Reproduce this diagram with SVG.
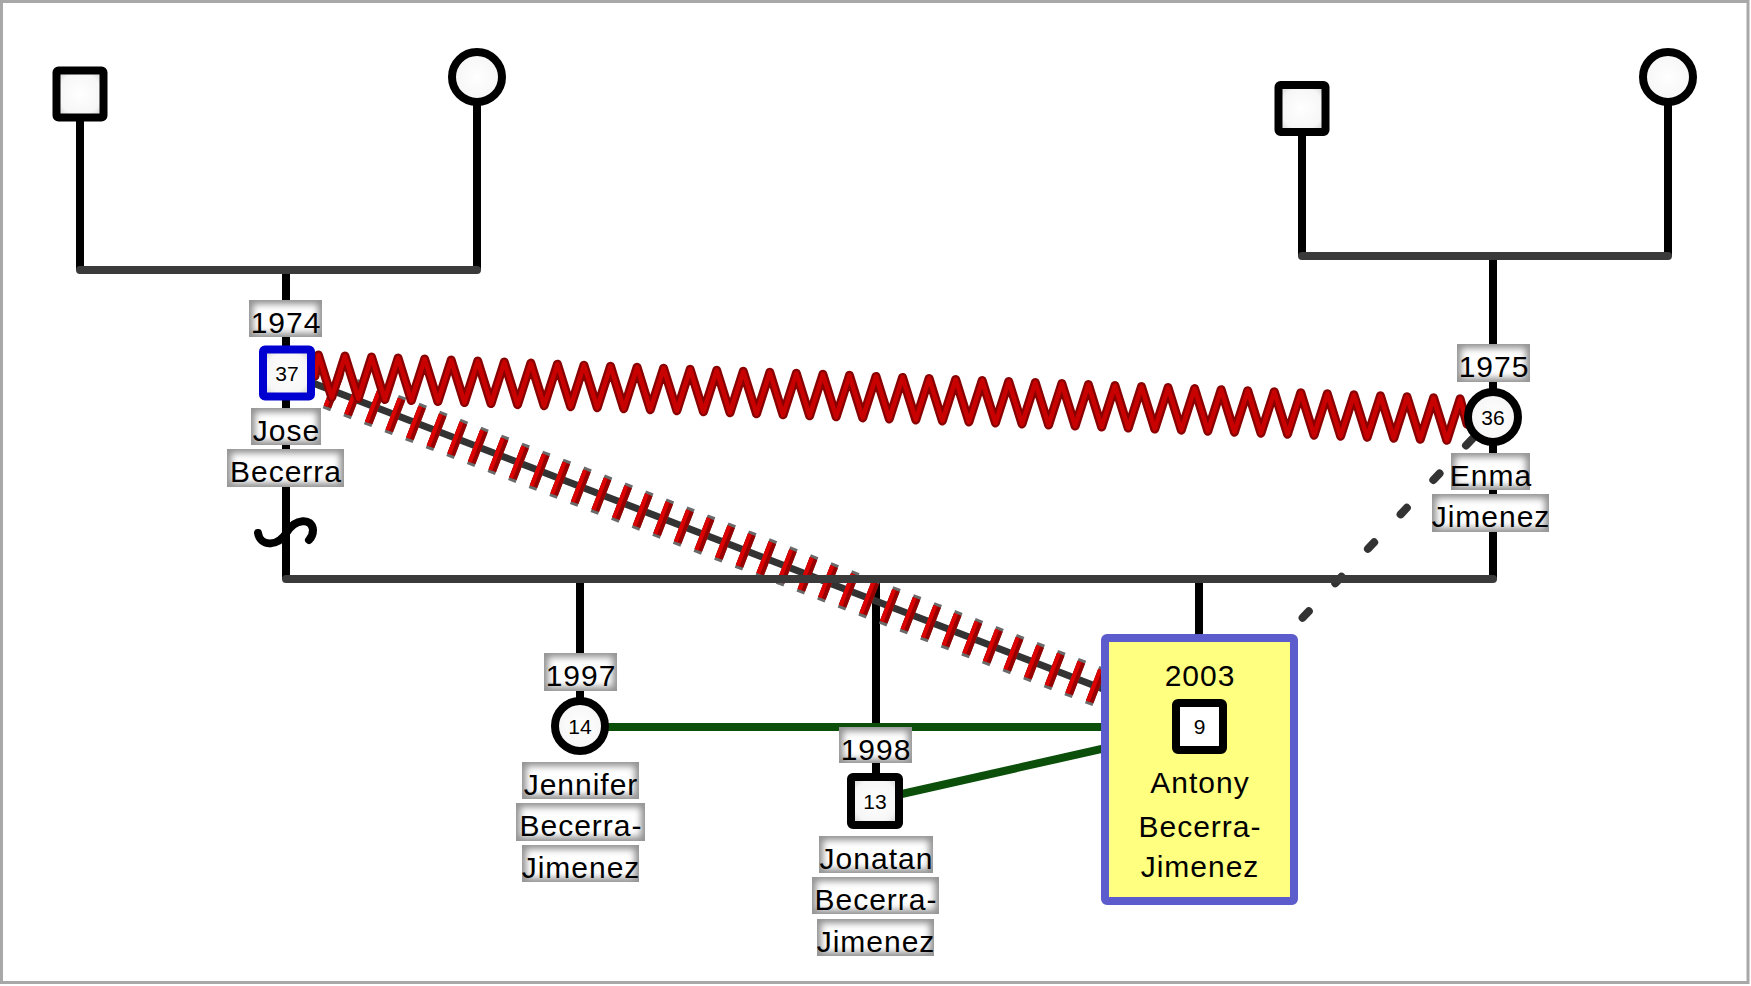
<svg xmlns="http://www.w3.org/2000/svg" width="1751" height="986" viewBox="0 0 1751 986">
<defs>
<style>
.v{stroke:#000;stroke-width:8;fill:none}
.h{stroke:#3a3a3a;stroke-width:8;fill:none;stroke-linecap:round}
.sym{fill:url(#nf);stroke:#000;stroke-width:8}
.lbl{fill:#959595;filter:url(#soft)}
.t{font-family:"Liberation Sans",Arial,sans-serif;font-size:30px;letter-spacing:1px;text-anchor:middle;fill:#000}
.n{font-family:"Liberation Sans",Arial,sans-serif;font-size:21px;text-anchor:middle;fill:#000}
.green{stroke:#0b4f0b;stroke-width:8;fill:none}
</style>
<radialGradient id="nf" cx="0.5" cy="0.5" r="0.6">
<stop offset="0" stop-color="#ffffff"/>
<stop offset="0.75" stop-color="#f6f6f6"/>
<stop offset="1" stop-color="#d8d8d8"/>
</radialGradient>
<filter id="soft" x="0" y="0" width="1" height="1">
<feMorphology in="SourceAlpha" operator="erode" radius="5" result="e"/>
<feGaussianBlur in="e" stdDeviation="3" result="b"/>
<feFlood flood-color="#ffffff" result="w"/>
<feComposite in="w" in2="b" operator="in" result="wi"/>
<feMerge><feMergeNode in="SourceGraphic"/><feMergeNode in="wi"/></feMerge>
</filter>
<path id="zz" d="M315,376 L318.45,354.97 l13.275,42.51 13.275,-41.49 13.275,42.51 13.275,-41.49 13.275,42.51 13.275,-41.49 13.275,42.51 13.275,-41.49 13.275,42.51 13.275,-41.49
13.275,42.51 13.275,-41.49 13.275,42.51 13.275,-41.49 13.275,42.51 13.275,-41.49 13.275,42.51 13.275,-41.49 13.275,42.51 13.275,-41.49
13.275,42.51 13.275,-41.49 13.275,42.51 13.275,-41.49 13.275,42.51 13.275,-41.49 13.275,42.51 13.275,-41.49 13.275,42.51 13.275,-41.49
13.275,42.51 13.275,-41.49 13.275,42.51 13.275,-41.49 13.275,42.51 13.275,-41.49 13.275,42.51 13.275,-41.49 13.275,42.51 13.275,-41.49
13.275,42.51 13.275,-41.49 13.275,42.51 13.275,-41.49 13.275,42.51 13.275,-41.49 13.275,42.51 13.275,-41.49 13.275,42.51 13.275,-41.49
13.275,42.51 13.275,-41.49 13.275,42.51 13.275,-41.49 13.275,42.51 13.275,-41.49 13.275,42.51 13.275,-41.49 13.275,42.51 13.275,-41.49
13.275,42.51 13.275,-41.49 13.275,42.51 13.275,-41.49 13.275,42.51 13.275,-41.49 13.275,42.51 13.275,-41.49 13.275,42.51 13.275,-41.49
13.275,42.51 13.275,-41.49 13.275,42.51 13.275,-41.49 13.275,42.51 13.275,-41.49 13.275,42.51 13.275,-41.49 13.275,42.51 13.275,-41.49
13.275,42.51 13.275,-41.49 13.275,42.51 13.275,-41.49 13.275,42.51 13.275,-41.49 L1467,424"/>
</defs>

<rect x="1.5" y="1.5" width="1746.5" height="981" fill="#fff" stroke="#a8a8a8" stroke-width="3"/>

<g id="connectors">
<path class="v" d="M80,121 V270 M477,104 V270"/>
<path class="v" d="M286,270 V579"/>
<path class="v" d="M1302,136 V256 M1668,104 V256"/>
<path class="v" d="M1493,256 V579"/>
<path class="v" d="M580,579 V700 M876,579 V775 M1199,579 V636"/>
<path d="M258,533 C260,546 277,548 287,532 C295,519 312,517 313,530 C313,535 311,538 309,540" fill="none" stroke="#000" stroke-width="8" stroke-linecap="round"/>
<path class="green" d="M580,727 H1199"/>
<path class="green" d="M875,800 L1199,727"/>
<path d="M1493,417 L1199,727" fill="none" stroke="#333" stroke-width="8" stroke-linecap="round" stroke-dasharray="9 38.5" stroke-dashoffset="17.3"/>
<path d="M287,373 L1103,689" fill="none" stroke="#333" stroke-width="7"/>
<path d="M320,385.8 L1100,687.6" fill="none" stroke="#6a6a6a" stroke-width="40" stroke-dasharray="8 14.09" stroke-dashoffset="-10.58"/>
<path d="M320,385.8 L1100,687.6" fill="none" stroke="#980000" stroke-width="34" stroke-dasharray="8 14.09" stroke-dashoffset="-10.58"/>
<path d="M320,385.8 L1100,687.6" fill="none" stroke="#dc0000" stroke-width="34" stroke-dasharray="4 18.09" stroke-dashoffset="-10.58"/>
<path class="h" d="M80,270 H477 M1302,256 H1668 M286,579 H1493"/>
<g fill="none" stroke-linejoin="round" stroke-linecap="round">
<use href="#zz" stroke="#880000" stroke-width="9"/>
<use href="#zz" stroke="#c80000" stroke-width="4.5"/>
</g>
</g>

<g id="p-father-left"><rect class="sym" x="56.5" y="70.5" width="47" height="47" rx="2"/></g>
<g id="p-mother-left"><circle class="sym" cx="477" cy="77" r="25"/></g>
<g id="p-father-right"><rect class="sym" x="1278.5" y="85" width="47" height="47" rx="2"/></g>
<g id="p-mother-right"><circle class="sym" cx="1668" cy="77" r="25"/></g>

<g id="jose">
<rect class="lbl" x="249" y="300" width="73" height="37"/>
<text class="t" x="286" y="332.5">1974</text>
<rect x="263" y="349.5" width="48" height="47" rx="2" fill="url(#nf)" stroke="#0000d0" stroke-width="8"/>
<text class="n" x="287" y="381">37</text>
<rect class="lbl" x="251" y="408" width="70" height="37"/>
<text class="t" x="286.5" y="440.5">Jose</text>
<rect class="lbl" x="227" y="449" width="117" height="38"/>
<text class="t" x="286" y="481.5">Becerra</text>
</g>

<g id="enma">
<rect class="lbl" x="1457" y="344" width="73" height="38"/>
<text class="t" x="1494" y="376.5">1975</text>
<circle class="sym" cx="1493" cy="417" r="25"/>
<text class="n" x="1493" y="425">36</text>
<rect class="lbl" x="1451" y="453" width="79" height="37"/>
<text class="t" x="1491" y="485.5">Enma</text>
<rect class="lbl" x="1432" y="494" width="117" height="38"/>
<text class="t" x="1491" y="526.5">Jimenez</text>
</g>

<g id="jennifer">
<rect class="lbl" x="544" y="653" width="73" height="38"/>
<text class="t" x="581" y="685.5">1997</text>
<circle class="sym" cx="580" cy="726" r="25"/>
<text class="n" x="580" y="734">14</text>
<rect class="lbl" x="522" y="762" width="117" height="37"/>
<text class="t" x="581" y="794.5">Jennifer</text>
<rect class="lbl" x="516" y="803" width="129" height="38"/>
<text class="t" x="581" y="835.5">Becerra-</text>
<rect class="lbl" x="522" y="845" width="117" height="37"/>
<text class="t" x="581" y="877.5">Jimenez</text>
</g>

<g id="jonatan">
<rect class="lbl" x="839" y="727" width="73" height="36"/>
<text class="t" x="876" y="759.5">1998</text>
<rect class="sym" x="851" y="777" width="48" height="48" rx="2"/>
<text class="n" x="875" y="808.5">13</text>
<rect class="lbl" x="819" y="836" width="114" height="37"/>
<text class="t" x="876.5" y="868.5">Jonatan</text>
<rect class="lbl" x="812" y="877" width="127" height="37"/>
<text class="t" x="876" y="909.5">Becerra-</text>
<rect class="lbl" x="817" y="919" width="117" height="37"/>
<text class="t" x="876" y="951.5">Jimenez</text>
</g>

<g id="antony">
<rect x="1105" y="638" width="189" height="263" rx="2" fill="#ffff80" stroke="#5c5ccc" stroke-width="8"/>
<text class="t" x="1200" y="686">2003</text>
<rect x="1176" y="703" width="47" height="47" rx="2" fill="#fff" stroke="#000" stroke-width="8"/>
<text class="n" x="1199.5" y="734">9</text>
<text class="t" x="1200" y="793">Antony</text>
<text class="t" x="1200" y="837">Becerra-</text>
<text class="t" x="1200" y="877">Jimenez</text>
</g>
</svg>
